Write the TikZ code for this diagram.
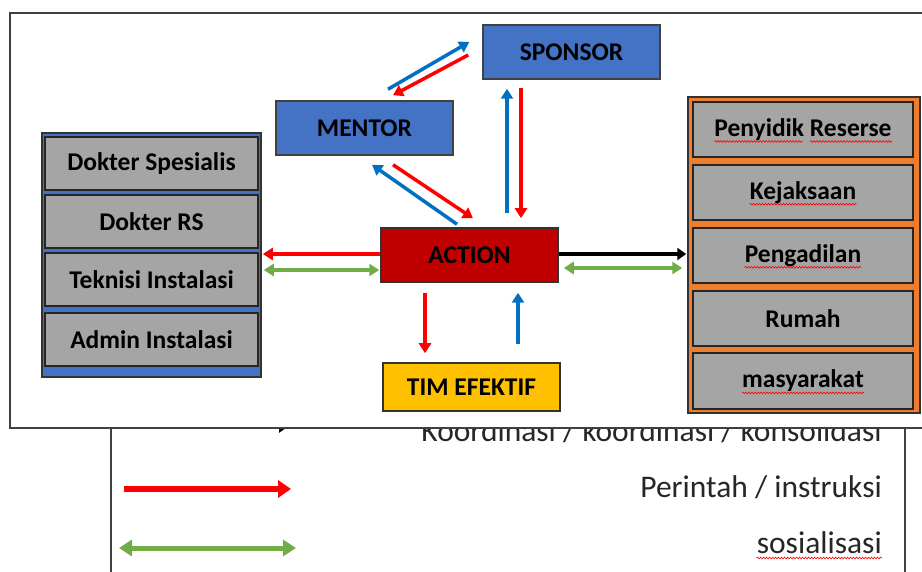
\documentclass[tikz,border=0pt]{standalone}
\usepackage{fontspec}
\setmainfont{Carlito}
\usepackage{tikz}
\usetikzlibrary{arrows.meta,positioning,calc,decorations.pathmorphing}
\definecolor{boxblue}{HTML}{4472C4}
\definecolor{actred}{HTML}{C00000}
\definecolor{timgold}{HTML}{FFC000}
\definecolor{orgorange}{HTML}{ED7D31}
\definecolor{boxgray}{HTML}{A5A5A5}
\definecolor{arrred}{HTML}{FF0000}
\definecolor{arrblue}{HTML}{0070C0}
\definecolor{arrgreen}{HTML}{70AD47}
\tikzstyle{unit}=[draw=black!80,line width=1.5pt,minimum width=177pt,minimum height=54pt,inner sep=0pt,font=\bfseries\fontsize{25.5}{30}\selectfont]
\tikzstyle{graybox}=[unit,fill=boxgray,draw=black!85,line width=2pt,minimum width=213pt,minimum height=53pt]
\tikzstyle{boxtxt}=[inner sep=0pt,font=\bfseries\fontsize{25.5}{30}\selectfont]
\tikzstyle{legtxt}=[inner sep=0pt,anchor=base east,text=black!85,font=\fontsize{31.5}{36}\selectfont]
\tikzstyle{cmd}=[draw=arrred,line width=3.5pt,-{Triangle[length=10pt,width=12pt]}]
\tikzstyle{rep}=[draw=arrblue,line width=3.5pt,-{Triangle[length=10pt,width=12pt]}]
\tikzstyle{soc}=[draw=arrgreen,line width=3.5pt,{Triangle[length=10pt,width=12pt]}-{Triangle[length=10pt,width=12pt]}]
\tikzstyle{coord}=[draw=black,line width=4pt,-{Triangle[length=10pt,width=13pt]}]
\tikzstyle{squig}=[draw=red,line width=0.6pt,decorate,decoration={snake,segment length=3pt,amplitude=0.9pt}]

\begin{document}
\begin{tikzpicture}[x=1pt,y=-1pt]
\useasboundingbox (0,0) rectangle (922,572);
\clip (0,0) rectangle (922,572);

% legend (sits underneath the main panel)
\draw[draw=black!75,line width=1.5pt] (111,400) rectangle (905,600);
\coordinate (k1) at (124,426);
\coordinate (k2) at (289,426);
\draw[coord] (k1) -- (k2);
\node[legtxt] (koord) at (882,441) {Koordinasi / koordinasi / konsolidasi};
\coordinate (p1) at (124,489);
\coordinate (p2) at (291,489);
\draw[cmd,line width=6pt,-{Triangle[length=13pt,width=17pt]}] (p1) -- (p2);
\node[legtxt] (perintah) at (882,497) {Perintah / instruksi};
\coordinate (s1) at (119,548);
\coordinate (s2) at (296,548);
\draw[soc,line width=5pt,{Triangle[length=13pt,width=16pt]}-{Triangle[length=13pt,width=16pt]}] (s1) -- (s2);
\node[legtxt] (sosial) at (882,553) {sosialisasi};
\draw[squig] ([yshift=-5pt]sosial.base west) -- ([yshift=-5pt]sosial.base east);

% main panel
\draw[fill=white,draw=black!75,line width=2pt] (10,13) rectangle (940,428);

\node[unit,fill=boxblue,draw=black!75] (sponsor) at (571.5,52) {SPONSOR};
\node[unit,fill=boxblue,draw=black!75] (mentor) at (364.5,128) {MENTOR};
\node[unit,fill=actred] (action) at (469.5,255) {ACTION};
\node[unit,fill=timgold,minimum height=48pt] (tim) at (471.5,387) {TIM EFEKTIF};

% staff column
\node[draw=black!80,fill=boxblue,line width=1.5pt,minimum width=219pt,minimum height=244pt] (staff) at (151.5,255) {};
\node[graybox] (dokspes) at (151.5,164) {Dokter Spesialis};
\node[graybox] (dokrs) at (151.5,221.5) {Dokter RS};
\node[graybox] (teknisi) at (151.5,279.5) {Teknisi Instalasi};
\node[graybox] (admin) at (151.5,340) {Admin Instalasi};

% partner column
\node[draw=black!80,fill=orgorange,line width=1.5pt,minimum width=232pt,minimum height=316pt] (mitra) at (804,255) {};
\node[graybox,minimum width=220pt,minimum height=55pt] (penyidik) at (803,129.5) {};
\node[graybox,minimum width=220pt,minimum height=55pt] (jaksa) at (803,192.5) {};
\node[graybox,minimum width=220pt,minimum height=55pt] (adil) at (803,255.5) {};
\node[graybox,minimum width=220pt,minimum height=55pt] (rumah) at (803,319) {Rumah};
\node[graybox,minimum width=220pt,minimum height=55pt] (masy) at (803,381) {};
\node[boxtxt] (penyidikT) at (penyidik) {Penyidik Reserse};
\node[boxtxt] (jaksaT) at (jaksa) {Kejaksaan};
\node[boxtxt] (adilT) at (adil) {Pengadilan};
\node[boxtxt] (masyT) at (masy) {masyarakat};
\draw[squig] ([yshift=-5pt]penyidikT.base west) -- ([yshift=-5pt]$(penyidikT.base west)!0.5!(penyidikT.base east)$);
\draw[squig] ([yshift=-5pt]$(penyidikT.base west)!0.54!(penyidikT.base east)$) -- ([yshift=-5pt]penyidikT.base east);
\foreach \t in {jaksaT,adilT,masyT}
  \draw[squig] ([yshift=-5pt]\t.base west) -- ([yshift=-5pt]\t.base east);

% connectors
\draw[rep] ([shift={(23.5,-11)}]mentor.north) -- ([shift={(-13,-10)}]sponsor.west);
\draw[cmd] ([shift={(-14,3)}]sponsor.west) -- ([shift={(28.5,-5)}]mentor.north);
\draw[rep] ([shift={(37.5,-14)}]action.north) -- ([shift={(-64.5,9)}]sponsor.south);
\draw[cmd] ([shift={(-50.5,8)}]sponsor.south) -- ([shift={(51.5,-9)}]action.north);
\draw[rep] ([shift={(-12.5,-3)}]action.north) -- ([shift={(7.5,9)}]mentor.south);
\draw[cmd] ([shift={(28.5,9)}]mentor.south) -- ([shift={(3.5,-9)}]action.north);
\draw[cmd] ([yshift=1pt]action.west) -- ([shift={(1,-1)}]staff.east);
\draw[soc] ([shift={(2,15)}]staff.east) -- ([shift={(-1,15)}]action.west);
\draw[coord,line width=3.5pt,-{Triangle[length=9pt,width=12pt]}] ([yshift=1pt]action.east) -- ([shift={(-1,-1)}]mitra.west);
\draw[soc] ([shift={(5,13)}]action.east) -- ([shift={(-5,13)}]mitra.west);
\draw[cmd] ([shift={(-44.5,10)}]action.south) -- ([shift={(-46.5,-9)}]tim.north);
\draw[rep] ([shift={(46.5,-18)}]tim.north) -- ([shift={(48.5,10)}]action.south);
\end{tikzpicture}
\end{document}
